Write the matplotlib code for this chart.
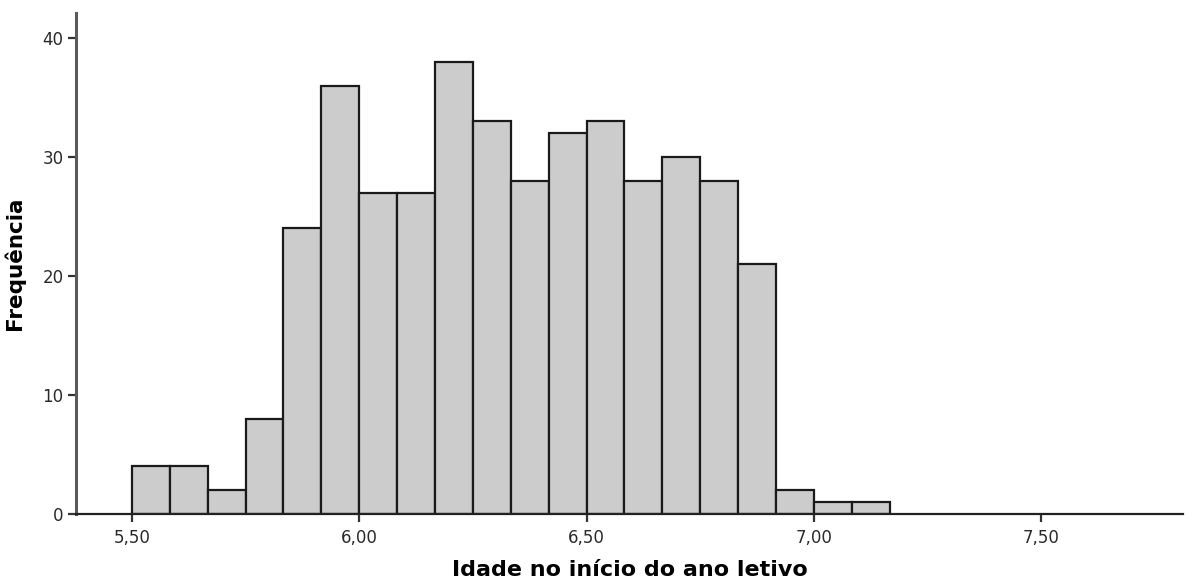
import numpy as np
import matplotlib
matplotlib.use("Agg")
import matplotlib.pyplot as plt
from matplotlib.ticker import FuncFormatter

# monthly age bins (years), starting at 5.50
bin_start = 5.5
bin_width = 1 / 12
counts = [4, 4, 2, 8, 24, 36, 27, 27, 38, 33, 28, 32, 33, 28, 30, 28, 21, 2, 1, 1]
x_ticks = [5.5, 6.0, 6.5, 7.0, 7.5]
y_ticks = [0, 10, 20, 30, 40]

edges = bin_start + bin_width * np.arange(len(counts) + 1)

fig = plt.figure(figsize=(11.86, 5.84), dpi=100)
ax = fig.add_axes([76 / 1186, 70 / 584, 1107 / 1186, 501 / 584])

ax.bar(edges[:-1], counts, width=bin_width, align="edge",
       color="#cccccc", edgecolor="#1a1a1a", linewidth=1.6)

ax.set_xlim(5.377, 7.812)
ax.set_ylim(0, 42.1)
ax.set_xticks(x_ticks)
ax.set_yticks(y_ticks)
ax.xaxis.set_major_formatter(FuncFormatter(lambda v, p: f"{v:.2f}".replace(".", ",")))

for s in ["top", "right"]:
    ax.spines[s].set_visible(False)
ax.spines["left"].set_color("#5a5a5a")
ax.spines["left"].set_linewidth(2.2)
ax.spines["bottom"].set_color("#222222")
ax.spines["bottom"].set_linewidth(1.6)
ax.tick_params(axis="both", direction="out", length=6, width=1.6, color="#333333",
               labelsize=12, labelcolor="#2a2a2a")
ax.tick_params(axis="x", pad=5)
ax.tick_params(axis="y", pad=3)
for lab in ax.get_xticklabels() + ax.get_yticklabels():
    lab.set_family("DejaVu Sans")

ax.set_xlabel("Idade no início do ano letivo", fontsize=16, fontweight="bold",
              family="DejaVu Sans")
ax.xaxis.set_label_coords(0.5, -0.092)
ax.set_ylabel("Frequência", fontsize=15.5, fontweight="bold", family="DejaVu Sans")
ax.yaxis.set_label_coords(-0.046, 0.5)

fig.savefig("out.png", dpi=100)
